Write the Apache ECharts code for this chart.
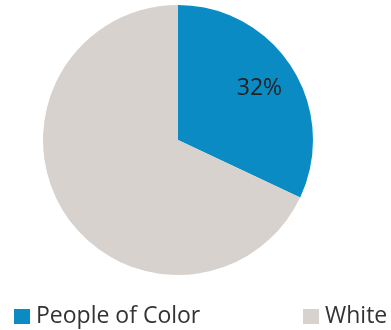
<!DOCTYPE html>
<html><head><meta charset="utf-8">
<script src="https://cdn.jsdelivr.net/npm/echarts@6/dist/echarts.min.js"></script>
<style>html,body{margin:0;padding:0;background:#fff}#c{width:391px;height:330px}</style>
</head><body><div id="c"></div>
<script>
const categories = ['People of Color', 'White'];
const values = [32, 68];
const colors = ['#0a8bc3', '#d7d2cd'];

const chart = echarts.init(document.getElementById('c'), null, {renderer: 'canvas'});
const data = categories.map((n, i) => ({name: n, value: values[i], itemStyle: {color: colors[i]}}));
const legendBase = {icon: 'rect', itemWidth: 16, itemHeight: 15, itemGap: 0, padding: 0, selectedMode: false,
  textStyle: {fontSize: 23, color: '#333', fontFamily: 'Open Sans', padding: [0, 0, 0, 1]}};
chart.setOption({
  animation: false,
  textStyle: {fontFamily: 'Open Sans'},
  legend: [
    Object.assign({data: [categories[0]], left: 14, top: 305}, legendBase),
    Object.assign({data: [categories[1]], left: 303, top: 305}, legendBase)
  ],
  series: [
    {type: 'pie', center: [178, 140], radius: 135, startAngle: 90, clockwise: true,
     label: {show: false}, labelLine: {show: false}, data: data, silent: true},
    {type: 'pie', center: [178, 140], radius: [52, 135], startAngle: 90, clockwise: true, silent: true,
     itemStyle: {color: 'rgba(0,0,0,0)'}, labelLine: {show: false},
     label: {show: true, position: 'inside', fontSize: 23, color: '#222', fontFamily: 'Open Sans',
       formatter: p => p.dataIndex === 0 ? p.value + '%' : ''},
     data: categories.map((n, i) => ({name: n + ' ', value: values[i], itemStyle: {color: 'rgba(0,0,0,0)'}}))}
  ]
});
</script></body></html>
